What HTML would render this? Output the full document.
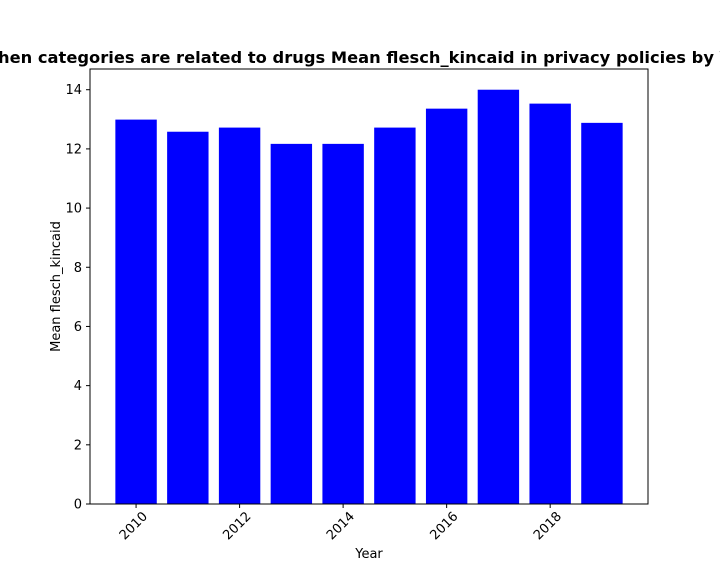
<!DOCTYPE html>
<html><head><meta charset="utf-8"><style>
body{margin:0;background:#fff;overflow:hidden;}
svg{display:block;font-family:"DejaVu Sans","Liberation Sans",sans-serif;}
</style></head><body>
<svg id="chart" width="720" height="576"></svg>
<script>
const years=[2010,2011,2012,2013,2014,2015,2016,2017,2018,2019];
const values=[12.99,12.58,12.72,12.17,12.17,12.72,13.36,14.0,13.53,12.88];
const xTicks=[2010,2012,2014,2016,2018];
const yTicks=[0,2,4,6,8,10,12,14];
const NS="http://www.w3.org/2000/svg";
const svg=document.getElementById('chart');
const L=90,R=648,T=69,B=504;
const xMin=2009.11,xMax=2019.89,yMax=14.7;
const xs=v=>L+(v-xMin)/(xMax-xMin)*(R-L);
const ys=v=>B-v/yMax*(B-T);
function mk(tag,attrs,parent){const e=document.createElementNS(NS,tag);for(const k in attrs)e.setAttribute(k,attrs[k]);(parent||svg).appendChild(e);return e;}
const bars=mk('g',{});


years.forEach((y,i)=>{
  const w=xs(y+0.4)-xs(y-0.4);
  const r=mk('rect',{x:xs(y-0.4),y:ys(values[i]),width:w,height:B-ys(values[i]),fill:'#0000ff'},bars);
  
  
});
const frame=mk('rect',{x:L,y:T,width:R-L,height:B-T,fill:'none',stroke:'#000','stroke-width':1});


yTicks.forEach(t=>{
  const y=ys(t);
  mk('line',{x1:L-4,x2:L,y1:y,y2:y,stroke:'#000'});
  const tx=mk('text',{x:L-8,y:y+4.5,'text-anchor':'end','font-size':13});
  tx.textContent=t;
  
  
});
xTicks.forEach(t=>{
  const x=xs(t);
  mk('line',{x1:x,x2:x,y1:B,y2:B+4,stroke:'#000'});
  const tx=mk('text',{x:x+12,y:B+13,'text-anchor':'end','font-size':13,transform:`rotate(-45 ${x+12} ${B+13})`});
  tx.textContent=t;
  
  
});
const xl=mk('text',{x:(L+R)/2,y:558,'text-anchor':'middle','font-size':13});
xl.textContent='Year';


const yl=mk('text',{x:60,y:(T+B)/2,'text-anchor':'middle','font-size':13,transform:`rotate(-90 60 ${(T+B)/2})`});
yl.textContent='Mean flesch_kincaid';


const ti=mk('text',{x:-20,y:63,'font-size':16,'font-weight':'bold',textLength:780,lengthAdjust:'spacingAndGlyphs'});
ti.textContent='When categories are related to drugs Mean flesch_kincaid in privacy policies by Year';


</script>
</body></html>
